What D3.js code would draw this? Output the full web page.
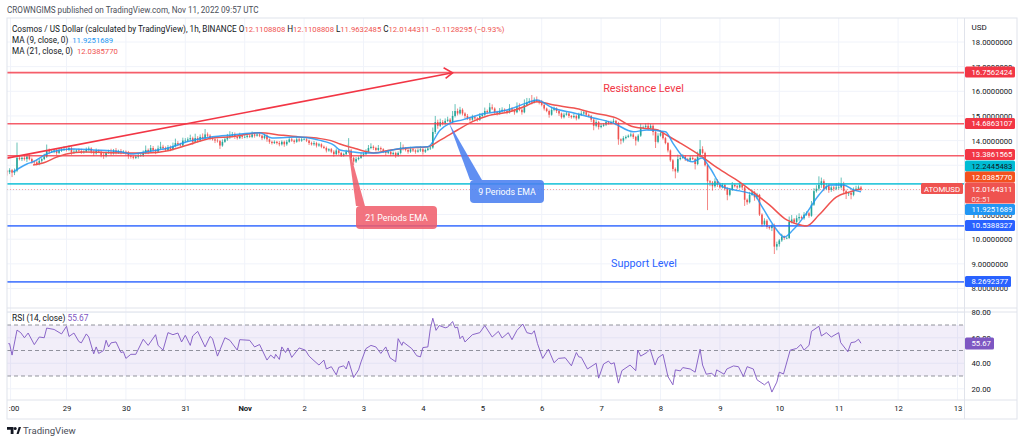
<!DOCTYPE html>
<html>
<head>
<meta charset="utf-8">
<script src="https://cdn.jsdelivr.net/npm/d3@7"></script>
<style>
    body { margin: 0; background: #fff; }
    text { font-family: Roboto, sans-serif; }
</style>
</head>
<body>
<div id="chart"></div>
<script>
// hourly closes, one row per day (Oct 28 -> Nov 11)
var closes = [
    12.72, 12.80, 12.70, 12.78, 13.30, 13.25, 13.30, 13.25, 13.35, 13.25, 13.15, 13.12, 13.05, 13.18, 13.25, 13.35, 13.62, 13.55, 13.55, 13.60, 13.50, 13.60, 13.62, 13.65,
    13.62, 13.70, 13.52, 13.55, 13.60, 13.58, 13.52, 13.55, 13.62, 13.68, 13.55, 13.48, 13.58, 13.55, 13.42, 13.38, 13.50, 13.55, 13.48, 13.60, 13.50, 13.58, 13.52, 13.55,
    13.50, 13.38, 13.35, 13.30, 13.35, 13.38, 13.40, 13.50, 13.62, 13.55, 13.70, 13.62, 13.55, 13.68, 13.75, 13.70, 13.62, 13.72, 13.65, 13.78, 13.90, 13.85, 13.80, 14.00,
    14.00, 14.05, 14.10, 13.95, 14.10, 14.00, 14.15, 14.10, 14.25, 14.20, 14.10, 14.05, 14.00, 13.98, 13.80, 13.95, 14.05, 14.15, 14.20, 14.25, 14.15, 14.10, 14.20, 14.15,
    14.15, 14.20, 14.15, 14.25, 14.20, 14.25, 14.20, 14.10, 14.20, 14.05, 13.95, 13.90, 13.95, 13.90, 13.85, 13.95, 13.85, 13.95, 14.05, 14.00, 13.95, 14.05, 14.00, 14.05,
    14.05, 14.00, 13.90, 13.85, 13.90, 13.80, 13.85, 13.75, 13.70, 13.60, 13.65, 13.55, 13.45, 13.60, 13.50, 13.40, 13.45, 13.55, 13.60, 13.30, 13.15, 13.25, 13.30, 13.40,
    13.45, 13.55, 13.70, 13.75, 13.70, 13.62, 13.70, 13.65, 13.55, 13.50, 13.55, 13.45, 13.50, 13.40, 13.50, 13.72, 13.68, 13.62, 13.55, 13.65, 13.60, 13.55, 13.60, 13.65,
    13.55, 13.62, 13.68, 13.72, 14.35, 14.75, 14.60, 14.75, 14.70, 14.80, 14.85, 14.75, 15.00, 15.20, 15.10, 15.25, 15.10, 15.00, 14.90, 14.85, 14.95, 14.90, 14.85, 15.00,
    15.05, 15.20, 15.15, 15.35, 15.30, 15.15, 15.10, 15.20, 15.25, 15.20, 15.15, 15.30, 15.25, 15.15, 15.35, 15.25, 15.15, 15.45, 15.55, 15.60, 15.55, 15.65, 15.60, 15.55,
    15.45, 15.30, 15.20, 15.05, 15.25, 15.30, 15.20, 15.10, 14.95, 15.05, 15.10, 15.00, 14.95, 15.00, 14.90, 15.05, 15.10, 15.15, 15.05, 15.00, 14.85, 14.60, 14.75, 14.55,
    14.60, 14.65, 14.75, 14.70, 14.75, 14.80, 14.70, 14.05, 14.00, 14.10, 14.15, 14.20, 14.25, 14.15, 14.00, 14.20, 14.55, 14.55, 14.60, 14.50, 14.60, 14.35, 13.95, 14.20,
    14.30, 14.10, 13.90, 13.60, 13.20, 12.85, 12.75, 13.25, 13.30, 13.35, 13.25, 13.20, 13.30, 13.25, 13.05, 13.35, 13.65, 13.50, 13.00, 12.35, 12.30, 12.15, 12.35, 12.20,
    12.10, 12.20, 12.05, 11.80, 12.00, 12.20, 12.15, 12.10, 12.20, 12.10, 11.60, 11.50, 11.80, 11.90, 11.70, 11.80, 11.00, 10.60, 10.75, 10.50, 10.45, 10.55, 9.70, 9.80,
    9.95, 10.10, 10.05, 10.05, 10.70, 10.80, 10.70, 10.85, 10.90, 10.85, 11.00, 11.05, 10.95, 11.40, 11.95, 12.05, 12.20, 12.35, 12.05, 12.15, 12.00, 12.10, 12.05, 12.10,
    12.10, 12.25, 11.95, 11.85, 11.88, 11.80, 12.00, 12.05, 12.10, 12.0144311
];

// wick lengths above / below the body, in cents of a dollar
var wickUp = [
    6, 8, 5, 9, 62, 10, 6, 12, 5, 9, 6, 4, 10, 8, 5, 12, 22, 6, 9, 5, 10, 6, 8, 12,
    8, 10, 6, 12, 5, 8, 9, 6, 10, 8, 5, 7, 10, 6, 5, 9, 6, 8, 12, 6, 10, 5, 8, 6,
    5, 8, 6, 4, 6, 9, 7, 10, 18, 6, 12, 8, 5, 12, 20, 8, 6, 10, 8, 14, 18, 8, 6, 12,
    10, 8, 14, 6, 18, 8, 10, 14, 22, 8, 6, 5, 4, 8, 5, 10, 8, 12, 18, 10, 8, 6, 12, 6,
    8, 10, 6, 12, 8, 6, 10, 5, 8, 6, 4, 5, 6, 4, 8, 6, 5, 8, 10, 6, 5, 10, 6, 8,
    6, 5, 4, 6, 8, 5, 6, 4, 5, 6, 4, 5, 6, 8, 4, 5, 6, 8, 50, 6, 5, 8, 6, 10,
    8, 10, 12, 14, 6, 5, 12, 6, 4, 6, 8, 4, 6, 5, 6, 22, 12, 6, 5, 10, 6, 5, 8, 12,
    5, 6, 8, 6, 18, 25, 10, 14, 8, 10, 12, 6, 20, 28, 10, 12, 6, 5, 8, 6, 10, 6, 5, 12,
    8, 14, 6, 18, 12, 5, 6, 12, 10, 6, 5, 18, 6, 4, 20, 16, 8, 22, 18, 12, 25, 10, 14, 6,
    10, 5, 4, 6, 12, 8, 5, 6, 4, 8, 6, 5, 4, 10, 5, 8, 10, 8, 6, 5, 4, 6, 8, 5,
    8, 6, 8, 5, 6, 10, 4, 6, 4, 8, 6, 5, 8, 6, 4, 6, 14, 6, 10, 12, 8, 6, 5, 10,
    12, 6, 5, 4, 4, 5, 6, 18, 8, 10, 6, 5, 8, 6, 4, 20, 37, 12, 5, 4, 5, 6, 12, 8,
    10, 8, 5, 6, 8, 12, 6, 5, 10, 8, 4, 5, 12, 10, 6, 8, 4, 5, 10, 6, 4, 6, 8, 10,
    6, 12, 5, 4, 22, 18, 6, 12, 15, 6, 10, 8, 6, 15, 12, 14, 35, 15, 8, 12, 10, 8, 6, 18,
    20, 25, 8, 6, 5, 8, 10, 12, 8, 6
];
var wickDown = [
    14, 8, 18, 10, 6, 5, 8, 6, 12, 5, 8, 10, 6, 5, 8, 4, 6, 10, 5, 6, 8, 5, 6, 4,
    6, 5, 10, 6, 5, 8, 6, 5, 4, 6, 8, 10, 5, 6, 10, 12, 6, 4, 8, 5, 6, 4, 8, 5,
    10, 12, 8, 6, 5, 8, 4, 6, 5, 10, 4, 8, 10, 5, 4, 8, 6, 4, 8, 5, 6, 8, 5, 6,
    8, 5, 6, 12, 4, 8, 5, 6, 4, 6, 8, 5, 10, 6, 14, 5, 4, 6, 8, 5, 8, 6, 4, 8,
    5, 6, 4, 5, 8, 4, 6, 8, 5, 10, 8, 6, 4, 6, 8, 5, 10, 6, 4, 5, 8, 4, 6, 5,
    4, 6, 8, 5, 6, 8, 5, 6, 4, 8, 5, 6, 10, 4, 8, 6, 5, 4, 6, 12, 14, 6, 5, 4,
    5, 4, 6, 5, 8, 6, 4, 8, 6, 10, 5, 8, 6, 10, 5, 6, 8, 6, 8, 5, 6, 8, 4, 6,
    12, 5, 4, 6, 5, 8, 12, 5, 8, 6, 5, 10, 5, 6, 8, 5, 8, 10, 6, 8, 5, 6, 8, 5,
    6, 5, 8, 4, 6, 10, 8, 5, 6, 4, 8, 5, 6, 10, 4, 6, 10, 4, 6, 5, 8, 4, 5, 8,
    6, 8, 5, 12, 4, 6, 8, 10, 6, 5, 4, 8, 6, 5, 8, 4, 5, 6, 8, 5, 10, 18, 6, 10,
    5, 4, 6, 5, 4, 5, 8, 22, 15, 8, 5, 4, 6, 8, 20, 6, 5, 4, 6, 8, 5, 14, 25, 6,
    4, 6, 5, 8, 6, 10, 28, 6, 5, 4, 8, 6, 5, 4, 22, 5, 4, 6, 5, 117, 15, 18, 6, 8,
    5, 4, 8, 22, 6, 4, 5, 6, 4, 8, 25, 10, 5, 4, 14, 8, 6, 10, 5, 8, 6, 12, 30, 15,
    10, 6, 8, 5, 4, 6, 8, 5, 10, 4, 6, 5, 8, 4, 5, 6, 8, 12, 10, 6, 12, 8, 10, 6,
    8, 5, 12, 22, 10, 18, 6, 4, 5, 6
];

var ma9Hours = [2.5, 8, 10.5, 16, 21.5, 27, 35, 45.5, 51, 56.5, 65, 73, 83, 91, 102, 107, 118, 126, 132, 134.5, 139, 144, 149.5, 157.5, 165.5, 170, 175, 179, 184, 192, 202, 210, 214, 220.5, 229, 237, 245, 253, 258.5, 266, 269, 273, 277, 280.7, 284, 289, 296, 302, 305, 310, 314, 317.5, 323, 328, 332.5, 338, 342, 345];
var ma9Values = [12.73, 13.05, 13.14, 13.46, 13.62, 13.66, 13.62, 13.55, 13.46, 13.55, 13.70, 13.96, 14.16, 14.23, 14.32, 14.11, 14.15, 14.02, 13.82, 13.62, 13.55, 13.50, 13.50, 13.66, 13.74, 13.75, 14.43, 14.71, 14.84, 15.08, 15.24, 15.53, 15.65, 15.32, 15.12, 14.92, 14.71, 14.36, 14.43, 14.36, 13.90, 13.35, 13.14, 13.29, 12.89, 12.13, 11.96, 11.79, 11.32, 10.51, 10.09, 10.37, 11.06, 11.79, 12.20, 12.20, 12.00, 11.9251689];
var ma21Hours = [10.5, 14.5, 20, 24, 31, 48, 56.5, 65, 73, 83, 91, 102, 111, 118, 126, 132, 134.5, 140, 144, 148, 155, 162, 170, 175, 182, 188, 194, 203, 210, 214, 221, 229, 237, 246, 253, 263, 265, 272, 281, 287, 296, 303, 308, 315, 319, 323, 328, 335, 340.5, 345];
var ma21Values = [13.01, 13.09, 13.33, 13.46, 13.54, 13.50, 13.50, 13.59, 13.82, 14.11, 14.16, 14.32, 14.22, 14.15, 14.09, 13.96, 13.86, 13.70, 13.58, 13.50, 13.62, 13.70, 13.75, 14.02, 14.43, 14.77, 15.00, 15.17, 15.42, 15.58, 15.44, 15.32, 15.12, 14.92, 14.56, 14.43, 14.31, 13.90, 13.33, 12.89, 12.32, 11.79, 11.39, 10.78, 10.62, 10.54, 10.98, 11.71, 11.92, 12.038577];

// RSI polyline vertices
var rsiHours = [0.5, 1, 2, 4, 5.5, 7, 8.5, 11, 13, 15, 16, 19, 22, 24, 25, 27, 29, 30, 32, 33, 35, 36, 37, 39, 40, 41, 42, 44, 46, 47, 48, 50, 52, 55, 57, 60, 61, 63, 65, 67, 69, 70.5, 72, 74, 75, 77, 80, 82, 83, 85, 88, 90, 93, 94, 98, 100, 102, 105, 106.5, 108, 108.5, 110, 111, 112.5, 113.5, 115, 118, 120.5, 122, 124, 126, 128, 129, 131, 133, 134, 136, 137, 138, 140, 142, 143, 145, 147, 149, 151, 153, 154.7, 157, 158, 159.5, 160, 163.5, 165.5, 167, 168, 170, 171, 172, 173.3, 174.6, 177, 178, 180, 181, 182, 183, 184, 185, 188, 191, 193, 196, 198.5, 200, 202.5, 204, 206, 208.4, 210, 212, 213, 214.3, 216.4, 218.7, 221, 222.8, 225.5, 228, 230, 231, 232, 234.5, 238, 239, 241, 243, 244, 245.3, 247, 248.4, 251.7, 254, 254.8, 256, 258.5, 259.8, 261.8, 263, 265, 267, 269, 270, 272, 273, 276, 278, 280, 281, 282.5, 284.7, 286, 286.7, 289.7, 290.8, 293.5, 295.5, 297.5, 299, 301.5, 303, 306, 307.6, 309, 311, 312, 313.7, 316.4, 319, 320.7, 322, 324, 325, 328, 329, 331, 333, 336, 336.8, 339.7, 341, 342.6, 344, 345];
var rsiValues = [55.4, 55.4, 46.4, 66, 64, 60, 63.7, 54.6, 60.6, 60, 67.6, 66.5, 63, 69, 61, 63.7, 57, 56, 63, 60.6, 47.4, 52.8, 47.7, 50, 58, 52.8, 56, 56.7, 48.4, 49, 43.8, 47, 47, 58.8, 54, 62.4, 54, 50.3, 64, 62.4, 63.7, 56.7, 61.9, 54, 61.4, 65, 52.8, 61, 59.3, 45.6, 60, 58, 50.3, 58.5, 58, 52.8, 54.7, 42.5, 46.4, 43.8, 47, 43, 52.8, 48.4, 52, 44.6, 52, 50.3, 45.6, 42, 38.6, 42.5, 35.5, 37.3, 30.9, 36.8, 38, 35.5, 41.7, 28.8, 34.8, 41, 51.5, 54, 52.8, 47.7, 52.8, 44.3, 41.2, 59.3, 54, 56.7, 51.5, 45.9, 45, 52.3, 52.8, 67, 75.3, 65.8, 69.6, 67.8, 68.3, 72.7, 67.8, 68.3, 59.3, 61.4, 56.7, 62.4, 64, 69.6, 60.6, 65, 59.8, 64, 58.5, 65.8, 70.7, 64, 63, 65.5, 55.4, 43.8, 51, 40.4, 43.8, 44.3, 38, 48.4, 45, 44.6, 35.5, 40, 28.3, 39.4, 41.7, 39.4, 40.4, 24.4, 34.2, 38.6, 34.2, 50.3, 45.6, 48.4, 51, 38.6, 44.3, 47, 29.6, 23.1, 34.8, 34, 36.6, 35.5, 33, 51, 38.6, 31.4, 32.2, 29.6, 34.8, 31.4, 35.5, 37.9, 37.3, 29.6, 37.3, 35.5, 27, 23.1, 25.7, 17.4, 25.2, 33, 31.6, 50.3, 51.6, 54.7, 50.3, 54, 65, 69, 61.4, 64, 60.6, 64, 56.2, 49, 56.2, 56.7, 58.8, 55.67];

var levels = [16.7562424, 14.6863107, 13.3861565, 12.2445483, 10.5388327, 8.2692377];
var priceTicks = [18, 17, 16, 15, 14, 11, 10, 9, 8];
var rsiTicks = [80, 60, 40, 20];
var rsiBands = [70, 50, 30];
var dayHours = [1.4, 24, 48, 72, 96, 120, 144, 168, 192, 216, 240, 264, 288, 312, 336, 360, 384];
var dayLabels = [":00", "29", "30", "31", "Nov", "2", "3", "4", "5", "6", "7", "8", "9", "10", "11", "12", "13"];

var trendHours = [0, 180];
var trendPrices = [13.29, 16.75];

var legendMain = "Cosmos / US Dollar (calculated by TradingView), 1h, BINANCE";
var ohlcNames = ["O", "H", "L", "C"];
var ohlcValues = ["12.1108808", "12.1108808", "11.9632485", "12.0144311"];

var RED = "#f23645", GREEN = "#26a69a", DOWN = "#ef5350", BLUE = "#2962ff", CYAN = "#00bcd4", TEXT = "#131722";
// note: "top" is taken by window.top, keep the pane names
var paneLeft = 7, paneRight = 964.5, axisRight = 1017, paneTop = 18, paneBottom = 308, rsiTop = 312, paneEnd = 400, footer = 419;
var NUM_SIZE = 7.7;

var x = d3.scaleLinear().domain([0, 24]).range([7.1, 66.5]);
var y = d3.scaleLinear().domain([18, 8]).range([42, 288.5]);
var yRsi = d3.scaleLinear().domain([70, 30]).range([325, 376]);

var svg = d3.select("#chart").append("svg").attr("width", 1024).attr("height", 443).style("display", "block");
svg.append("rect").attr("width", 1024).attr("height", 443).attr("fill", "#fff");

var defs = svg.append("defs");
defs.append("clipPath").attr("id", "pane").append("rect")
    .attr("x", paneLeft).attr("y", paneTop).attr("width", paneRight - paneLeft).attr("height", paneBottom - paneTop);

// grid
var grid = svg.append("g").attr("stroke", "#f0f3fa").attr("stroke-width", 1);
grid.selectAll(".vg").data(dayHours).enter().append("line")
    .attr("x1", d => x(d)).attr("x2", d => x(d)).attr("y1", paneTop).attr("y2", paneEnd);
grid.selectAll(".hg").data(d3.range(8, 19)).enter().append("line")
    .attr("x1", paneLeft).attr("x2", paneRight).attr("y1", d => y(d)).attr("y2", d => y(d));
grid.selectAll(".rg").data(rsiTicks).enter().append("line")
    .attr("x1", paneLeft).attr("x2", paneRight).attr("y1", d => yRsi(d)).attr("y2", d => yRsi(d));

// rsi band
svg.append("rect").attr("x", paneLeft).attr("width", paneRight - paneLeft)
    .attr("y", yRsi(70)).attr("height", yRsi(30) - yRsi(70))
    .attr("fill", "#7e57c2").attr("fill-opacity", 0.1);
svg.selectAll(".band").data(rsiBands).enter().append("line")
    .attr("x1", paneLeft).attr("x2", paneRight).attr("y1", d => yRsi(d)).attr("y2", d => yRsi(d))
    .attr("stroke", "#787b86").attr("stroke-opacity", 0.8).attr("stroke-dasharray", "4 3");

var pane = svg.append("g").attr("clip-path", "url(#pane)");

// current price dotted line
pane.append("line").attr("x1", paneLeft).attr("x2", paneRight)
    .attr("y1", y(closes[closes.length - 1])).attr("y2", y(closes[closes.length - 1]))
    .attr("stroke", DOWN).attr("stroke-opacity", 0.5).attr("stroke-dasharray", "1 2");

// candles
var candles = closes.map(function (c, i) {
    var open = i == 0 ? 12.75 : closes[i - 1];
    return {
        i: i, open: open, close: c,
        high: Math.max(open, c) + wickUp[i] / 100,
        low: Math.min(open, c) - wickDown[i] / 100
    };
});
var candle = pane.append("g").selectAll("g").data(candles).enter().append("g")
    .attr("stroke", d => d.close >= d.open ? GREEN : DOWN)
    .attr("fill", d => d.close >= d.open ? GREEN : DOWN);
candle.append("line")
    .attr("x1", d => x(d.i)).attr("x2", d => x(d.i))
    .attr("y1", d => y(d.high)).attr("y2", d => y(d.low))
    .attr("stroke-width", 0.7);
candle.append("rect")
    .attr("x", d => x(d.i) - 0.8).attr("width", 1.6)
    .attr("y", d => y(Math.max(d.open, d.close)))
    .attr("height", d => Math.max(0.6, Math.abs(y(d.open) - y(d.close))))
    .attr("stroke", "none");

// levels
var levelColors = [RED, RED, RED, CYAN, BLUE, BLUE];
pane.selectAll(".level").data(levels).enter().append("line")
    .attr("x1", paneLeft).attr("x2", paneRight)
    .attr("y1", d => y(d)).attr("y2", d => y(d))
    .attr("stroke", (d, i) => levelColors[i]).attr("stroke-width", 1.6).attr("stroke-opacity", 0.8);

// moving averages
var line = d3.line().x(d => x(d[0])).y(d => y(d[1])).curve(d3.curveMonotoneX);
pane.append("path").attr("d", line(d3.zip(ma21Hours, ma21Values)))
    .attr("fill", "none").attr("stroke", "#ef5350").attr("stroke-width", 1.5);
pane.append("path").attr("d", line(d3.zip(ma9Hours, ma9Values)))
    .attr("fill", "none").attr("stroke", "#2196f3").attr("stroke-width", 1.5).attr("stroke-opacity", 0.85);

// trend arrow
var tx1 = x(trendHours[1]), ty1 = y(trendPrices[1]);
pane.append("line")
    .attr("x1", x(trendHours[0])).attr("y1", y(trendPrices[0]))
    .attr("x2", tx1).attr("y2", ty1)
    .attr("stroke", RED).attr("stroke-width", 1.6);
pane.append("path")
    .attr("d", "M" + (tx1 - 9) + "," + (ty1 - 5) + "L" + tx1 + "," + ty1 + "L" + (tx1 - 7) + "," + (ty1 + 5.5))
    .attr("fill", "none").attr("stroke", RED).attr("stroke-width", 1.6);

// callouts
function callout(label, apexHour, apexPrice, base, bx, by, bw, bh, fill) {
    var c = svg.append("g");
    c.append("path").attr("fill", fill)
        .attr("d", "M" + x(apexHour) + "," + y(apexPrice) + "L" + base[0] + "," + base[1] + "L" + base[2] + "," + base[3] + "Z");
    c.append("rect").attr("x", bx).attr("y", by).attr("width", bw).attr("height", bh).attr("rx", 4).attr("fill", fill);
    c.append("text").attr("x", bx + bw / 2).attr("y", by + bh / 2 + 3.2).attr("text-anchor", "middle")
        .attr("fill", "#fff").attr("font-size", 8.8).text(label);
}
callout("21 Periods EMA", 137.5, 13.9, [356, 206, 365, 206], 356, 206, 81, 23, "rgba(240,90,105,0.85)");
callout("9 Periods EMA", 178.5, 14.72, [470, 180, 482, 180], 470, 180, 74, 23, "rgba(74,128,240,0.88)");

svg.append("text").attr("x", 643.5).attr("y", 92).attr("text-anchor", "middle")
    .attr("fill", RED).attr("font-size", 10.8).text("Resistance Level");
svg.append("text").attr("x", 644).attr("y", 267).attr("text-anchor", "middle")
    .attr("fill", BLUE).attr("font-size", 10.8).text("Support Level");

// rsi
svg.append("path").attr("d", d3.line().x(d => x(d[0])).y(d => yRsi(d[1]))(d3.zip(rsiHours, rsiValues)))
    .attr("fill", "none").attr("stroke", "#7e57c2").attr("stroke-width", 1).attr("stroke-opacity", 0.9);

// frame
var frame = svg.append("g").attr("stroke", "#e0e3eb").attr("fill", "none");
frame.append("rect").attr("x", paneLeft).attr("y", paneTop).attr("width", axisRight - paneLeft).attr("height", footer - paneTop);
frame.append("line").attr("x1", paneRight).attr("x2", paneRight).attr("y1", paneTop).attr("y2", footer);
frame.append("line").attr("x1", paneLeft).attr("x2", axisRight).attr("y1", paneBottom).attr("y2", paneBottom);
frame.append("line").attr("x1", paneLeft).attr("x2", axisRight).attr("y1", rsiTop).attr("y2", rsiTop);
frame.append("line").attr("x1", paneLeft).attr("x2", axisRight).attr("y1", paneEnd).attr("y2", paneEnd);

// axes
function styleAxis(g) {
    g.select(".domain").remove();
    g.selectAll(".tick line").remove();
    g.selectAll("text").attr("fill", TEXT).attr("font-size", NUM_SIZE)
        .style("font-family", 'Roboto, sans-serif');
}
svg.append("g").attr("transform", "translate(966,0)")
    .call(d3.axisRight(y).tickValues(priceTicks).tickSize(0).tickPadding(5.5).tickFormat(d3.format(".7f")))
    .call(styleAxis);
svg.append("g").attr("transform", "translate(966,0)")
    .call(d3.axisRight(yRsi).tickValues(rsiTicks).tickSize(0).tickPadding(5.5).tickFormat(d3.format(".2f")))
    .call(styleAxis);
var timeAxis = svg.append("g").attr("transform", "translate(0," + (paneEnd + 2) + ")")
    .call(d3.axisBottom(x).tickValues(dayHours).tickSize(0).tickPadding(4).tickFormat((d, i) => dayLabels[i]))
    .call(styleAxis);
timeAxis.selectAll("text").filter(d => d == dayHours[0]).attr("dx", 3);
timeAxis.selectAll("text").filter(d => d == 96).attr("font-weight", 700);

svg.append("text").attr("x", 971.5).attr("y", 30).attr("fill", TEXT).attr("font-size", 8).text("USD");

// price tags on the axis
function tag(label, cy, fill, color, w, h, baseline) {
    var g = svg.append("g");
    g.append("rect").attr("x", 965).attr("y", cy - (h || 11) / 2).attr("width", w || 50).attr("height", h || 11).attr("rx", 1.5).attr("fill", fill);
    g.append("text").attr("x", 971.5).attr("y", baseline || cy + 2.8).attr("fill", color).attr("font-size", NUM_SIZE).text(label);
}
var fmt = d3.format(".7f");
tag(fmt(levels[0]), 72, RED, "#fff");
tag(fmt(levels[1]), 123.5, RED, "#fff");
tag(fmt(levels[2]), 154.5, RED, "#fff");
tag(fmt(levels[3]), 166, CYAN, "#131722");
tag(fmt(ma21Values[ma21Values.length - 1]), 177, "#f4511e", "#fff");
tag(fmt(closes[closes.length - 1]), 193, DOWN, "#fff", 50, 21, 191.8);
tag(fmt(ma9Values[ma9Values.length - 1]), 209.5, "#2196f3", "#fff");
tag(fmt(levels[4]), 225.5, BLUE, "#fff");
tag(fmt(levels[5]), 281.5, BLUE, "#fff", 46);
tag("55.67", 343.5, "#7e57c2", "#fff", 29, 12);
svg.append("text").attr("x", 971.5).attr("y", 201.5).attr("fill", "#fff").attr("fill-opacity", 0.8).attr("font-size", NUM_SIZE).text("02:51");

svg.append("rect").attr("x", 921).attr("y", 183).attr("width", 42).attr("height", 11).attr("rx", 1.5).attr("fill", DOWN);
svg.append("text").attr("x", 942).attr("y", 191.5).attr("text-anchor", "middle").attr("fill", "#fff").attr("font-size", 7.8).text("ATOMUSD");

// header and legend
svg.append("text").attr("x", 7).attr("y", 13).attr("fill", "#4a4e58").attr("font-size", 8.15)
    .text("CROWNGIMS published on TradingView.com, Nov 11, 2022 09:57 UTC");

var legend = svg.append("text").attr("x", 12).attr("y", 31.5).attr("font-size", 8.2).attr("fill", TEXT);
legend.append("tspan").text(legendMain + "  ");
ohlcNames.forEach(function (n, i) {
    legend.append("tspan").text(n);
    legend.append("tspan").attr("fill", DOWN).attr("font-size", NUM_SIZE).text(ohlcValues[i] + "  ");
});
legend.append("tspan").attr("fill", DOWN).attr("font-size", NUM_SIZE).text("\u22120.1128295 (\u22120.93%)");

var ma9Legend = svg.append("text").attr("x", 12).attr("y", 42.5).attr("font-size", 8.2).attr("fill", TEXT);
ma9Legend.append("tspan").text("MA (9, close, 0)  ");
ma9Legend.append("tspan").attr("dx", 2).attr("fill", "#2196f3").attr("font-size", NUM_SIZE).text(fmt(ma9Values[ma9Values.length - 1]));
var ma21Legend = svg.append("text").attr("x", 12).attr("y", 54).attr("font-size", 8.2).attr("fill", TEXT);
ma21Legend.append("tspan").text("MA (21, close, 0)  ");
ma21Legend.append("tspan").attr("dx", 2).attr("fill", DOWN).attr("font-size", NUM_SIZE).text(fmt(ma21Values[ma21Values.length - 1]));

var rsiLegend = svg.append("text").attr("x", 12).attr("y", 321).attr("font-size", 8.4).attr("fill", TEXT);
rsiLegend.append("tspan").text("RSI (14, close)  ");
rsiLegend.append("tspan").attr("fill", "#7e57c2").text(rsiValues[rsiValues.length - 1]);

// logo
var logo = svg.append("g").attr("fill", "#131722");
logo.append("path").attr("d", "M7,427h6.5v7h-2.8v-4.3h-3.7Z");
logo.append("circle").attr("cx", 15.2).attr("cy", 428.5).attr("r", 1.5);
logo.append("path").attr("d", "M16.5,434l2.2,-7h2.3l-2.4,7Z");
svg.append("text").attr("x", 23).attr("y", 434).attr("fill", "#4a4e58").attr("font-size", 9.6).text("TradingView");
</script>
</body>
</html>
